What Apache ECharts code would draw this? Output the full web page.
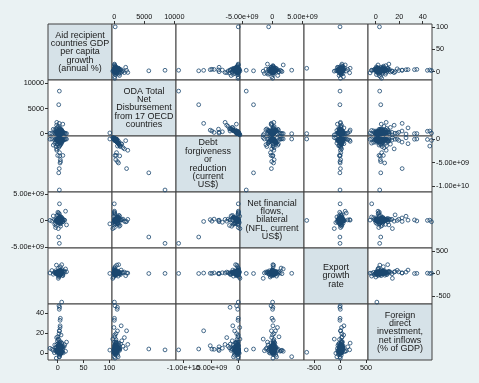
<!DOCTYPE html>
<html>
<head>
<meta charset="utf-8">
<script src="https://cdn.jsdelivr.net/npm/echarts@6/dist/echarts.min.js"></script>
<style>
  html, body { margin: 0; padding: 0; background: #eaf2f3; }
  #chart { width: 479px; height: 383px; }
</style>
</head>
<body>
<div id="chart"></div>
<script>
// variable names shown on the diagonal
var varLabels = [
  'Aid recipient\ncountries GDP\nper capita\ngrowth\n(annual %)',
  'ODA Total\nNet\nDisbursement\nfrom 17 OECD\ncountries',
  'Debt\nforgiveness\nor\nreduction\n(current\nUS$)',
  'Net financial\nflows,\nbilateral\n(NFL, current\nUS$)',
  'Export\ngrowth\nrate',
  'Foreign\ndirect\ninvestment,\nnet inflows\n(% of GDP)'
];

// observations (debt and nfl in billions of US$)
var gdp = [
  3.2, 5.1, -1.4, 6.8, 2.5, 4.4, 0.7, 7.9, -3.2, 5.6,
  1.9, 3.8, 9.4, -0.6, 4.9, 2.2, 6.1, -5.7, 3.5, 8.3,
  1.1, 4.2, -2.1, 5.9, 12.4, 0.3, 3.9, 7.2, -8.6, 2.8,
  4.6, 6.5, -0.9, 1.6, 10.8, 3.1, 5.3, -4.1, 2.9, 7.6,
  0.9, 4.8, -1.8, 6.3, 3.6, 15.2, 1.4, 5.7, -2.7, 2.4,
  8.9, 4.1, -11.3, 3.3, 6.9, 0.2, 5.2, 2.1, -6.4, 4.5,
  7.4, 1.7, 3.7, -0.3, 9.9, 2.6, 5.5, -3.8, 4.3, 13.6,
  1.2, 6.6, -14.8, 3.0, 4.7, 0.5, 17.1, 2.0, 5.0, -1.1,
  2.8, 4.1, 3.5, 1.9, 5.2, 3.0, 4.6, 2.3, 3.9, 5.8,
  1.5, 4.4, 3.3, 2.6, 6.0, 3.7, 0.8, 4.9, 2.9, 3.4,
  5.5, 1.2, 4.0, 3.1, 2.0, 6.4, 3.6, 4.3, -0.5, 2.4,
  4.7, 3.8, 1.7, 5.0, 2.7, 7.0, 3.2, -1.9, 4.5, 2.2,
  3.2, 2.0, 3.0, 101, 3.4, 7.7, -2.5, 7.8, 0, 10,
  5, 5.5, 4.5, 4.0, 3.6, 2.5, 3.8, 3.0, 5.2, 4.6
];
var oda = [
  120, 340, 45, 610, 230, 80, 410, 155, 960, 275,
  30, 520, 190, 1250, 65, 380, 140, 720, 260, 15,
  450, 95, 1680, 310, 175, 20, 560, 240, 880, 110,
  350, 60, 205, 1450, 135, 480, 290, 10, 650, 185,
  75, 395, 2250, 160, 530, 40, 270, 820, 125, -120,
  430, 215, 55, 1050, 330, 90, 590, 250, 165, -60,
  700, 25, 365, 145, 1900, 280, 50, 470, 200, 105,
  -250, 320, 85, 540, 1150, 225, 35, 400, 150, 760,
  90, 160, 210, 45, 300, 130, 70, 250, 185, 20,
  115, 340, 60, 150, 235, 5, 95, 280, 175, 40,
  220, 100, 145, 370, 55, 195, 80, 125, 265, 30,
  170, 240, 65, 110, 315, 140, 85, 205, 35, 155,
  8450, 5750, 2050, 150, 0, 20, 420, 730, 110, 300,
  250, 530, 700, 900, 380, 120, 530, 480, 30, 10
];
var debt = [
  -0.05, -0.32, 0, -0.81, -0.12, 0.02, -0.45, -0.08, -1.6, -0.21,
  0, -0.6, -0.15, -1.1, -0.03, -0.38, -0.1, -0.95, -0.26, 0,
  -0.52, -0.06, -2.1, -0.3, -0.18, 0.05, -0.72, -0.22, -1.3, -0.09,
  -0.41, -0.02, -0.17, -1.85, -0.11, -0.58, -0.28, 0, -0.88, -0.14,
  -0.04, -0.47, -2.4, -0.13, -0.66, 0.01, -0.24, -1.2, -0.07, 0.18,
  -0.5, -0.19, -0.01, -1.45, -0.34, -0.06, -0.76, -0.27, -0.16, 0.25,
  -0.9, 0, -0.43, -0.12, -0.35, -0.29, -0.03, -0.62, -0.2, -0.08,
  0.3, -0.37, -0.05, -0.69, -1.0, -0.23, -0.02, -0.54, -0.15, -1.05,
  -0.02, -0.1, -0.05, 0, -0.15, -0.03, -0.08, -0.2, 0, -0.06,
  -0.12, -0.01, -0.25, -0.04, 0, -0.09, -0.18, -0.02, -0.07, -0.3,
  0, -0.11, -0.04, -0.14, -0.01, -0.22, -0.06, 0, -0.16, -0.03,
  -0.08, -0.13, 0, -0.05, -0.19, -0.02, -0.1, -0.07, -0.01, -0.04,
  -10.85, -7.2, -6.3, 0, 0, 0, -0.25, -0.5, -3.5, -3.5,
  -4.4, -4.8, -5.1, -3.6, -2.9, -0.3, -1.5, -0.1, 0, -0.05
];
var nfl = [
  1.3, 0.35, -0.05, 0.61, 0.2, -0.15, 0.42, 0.08, -0.9, 0.27,
  0.03, -0.4, 0.18, 0.2, -0.02, 0.5, 0.1, -0.7, 0.25, 0.01,
  0.44, -0.1, -0.1, 0.3, 0.15, 1.6, 0.58, -0.22, 0.9, 0.07,
  0.33, 0.04, -0.18, 0.3, 0.14, 0.47, 0.22, -1.3, 0.7, 0.16,
  0.06, -0.55, 0.25, 0.13, 0.52, 1.8, 0.26, -1.05, 0.11, -0.35,
  0.4, 0.19, -0.08, 0.15, 0.3, 1.1, -0.62, 0.24, 0.17, 0.85,
  0.65, 1.45, 0.37, 0.12, -0.2, 0.28, 0.02, -0.48, 0.2, 0.09,
  -1.5, 0.31, 0.06, 0.54, 0.1, 0.21, -0.8, 0.39, 0.14, 1.0,
  0.05, 0.12, -0.08, 0.2, 0.02, 0.15, -0.03, 0.09, 0.25, -0.12,
  0.07, 0.18, 0.01, -0.05, 0.11, 0.22, 0.04, -0.15, 0.14, 0.06,
  -0.02, 0.1, 0.17, 0.03, -0.09, 0.08, 0.13, -0.01, 0.19, 0.05,
  0.16, -0.06, 0.1, 0.02, 0.23, -0.04, 0.08, 0.12, -0.1, 0.04,
  -4.3, -3.1, -0.15, -0.6, 3.2, 0.05, 0.2, 0.1, 0.1, -0.2,
  0.3, -0.1, 0.2, 0.05, -0.3, -0.2, 0.1, 0.05, -0.05, 0.15
];
var expGrowth = [
  12, 25, -8, 40, 5, 18, -20, 33, 9, -3,
  60, 15, -35, 22, 7, 48, -12, 28, 2, 85,
  19, -45, 30, 11, 55, -6, 24, 38, -18, 14,
  4, 70, -28, 16, 35, -2, 45, 10, -60, 27,
  21, -15, 8, 52, 13, 100, -10, 31, 6, -80,
  36, 1, 65, -24, 20, 42, 3, -40, 17, 29,
  -5, 120, 23, 10, -50, 34, 14, 58, -30, 26,
  -110, 44, 9, 18, 75, -14, 37, 0, 150, 20,
  8, 15, -4, 22, 3, 11, -9, 18, 6, 27,
  -2, 13, 9, 20, -12, 5, 16, 1, 24, 10,
  -6, 14, 7, 30, 2, 12, -15, 19, 4, 9,
  17, -3, 11, 25, 6, -8, 14, 21, 0, 7,
  0, -2, 8, 0, 2, -640, 185, 195, 5, -10,
  12, 0, 3, -5, 15, 4, -3, 6, 1, -2
];
var fdi = [
  2.1, 4.5, 0.8, 6.2, 3.3, 1.5, 9.8, 2.7, 5.4, 0.3,
  7.6, 3.9, 1.2, 12.5, 2.4, 5.1, -0.6, 8.3, 3.6, 1.9,
  4.8, 2.2, 15.7, 0.9, 6.7, 3.1, -1.8, 10.4, 2.9, 5.8,
  1.4, 18.3, 3.7, 7.1, 0.5, 4.2, 11.6, 2.6, -3.5, 6.4,
  3.5, 1.0, 8.9, 5.6, 22.4, 2.0, 13.8, 4.4, -4.8, 0.1,
  6.9, 2.8, 4.1, 9.2, 1.7, 16.5, 3.2, 7.8, 0.6, 25.8,
  5.2, 2.5, 10.9, 1.3, 4.7, 19.6, 3.0, 6.0, -1.2, 8.6,
  14.2, 2.3, 5.0, 0.4, 27.5, 3.8, 11.2, 1.6, 6.5, 4.0,
  2.5, 3.8, 1.2, 5.0, 0.7, 4.1, 2.9, 6.3, 1.8, 3.4,
  2.2, 7.5, 0.4, 4.6, 3.0, 1.6, 5.7, 2.7, 8.8, 3.6,
  1.1, 4.3, 2.0, 6.8, 0.9, 3.2, 5.3, 2.4, 4.0, 1.4,
  9.6, 2.8, 3.9, 0.2, 5.9, 2.1, 4.8, 1.9, 7.2, 3.3,
  3.4, 4.3, 22.5, 3.2, -3.4, 1.0, 3.5, 10.2, 2.8, 6.5,
  4.0, 4.2, 7.6, 3.9, 5.1, 47.5, 46, 44, 35, 33
];

// axis ticks and their labels
var tickValues = [
  [0, 50, 100],
  [0, 5000, 10000],
  [-10, -5, 0],
  [-5, 0, 5],
  [-500, 0, 500],
  [0, 20, 40]
];
var tickLabels = [
  ['0', '50', '100'],
  ['0', '5000', '10000'],
  ['-1.00e+10', '-5.00e+09', '0'],
  ['-5.00e+09', '0', '5.00e+09'],
  ['-500', '0', '500'],
  ['0', '20', '40']
];

// axis extents when used as x (columns) and y (rows)
var xRange = [[-18.8, 105.2], [-380, 10280], [-11.33, 0.31], [-5.33, 5.23], [-692, 538], [-6.55, 47.9]];
var yRange = [[-18.7, 107.4], [-456, 10655], [-11.28, 0.64], [-5.18, 5.44], [-682, 567], [-6.7, 49.3]];

var vars = [gdp, oda, debt, nfl, expGrowth, fdi];
var n = 6;
var cellW = 64, cellH = 56, x0 = 48, y0 = 24;
var font = '"Liberation Sans Narrow", "Liberation Sans", Arial, sans-serif';

var grids = [], xAxes = [], yAxes = [], series = [], graphics = [];

function labelFmt(k) {
  return function (v) {
    var i = tickValues[k].indexOf(v);
    return i >= 0 ? tickLabels[k][i] : '';
  };
}

function makeAxis(idx, k, range, show, pos, labelVals) {
  return {
    type: 'value', gridIndex: idx, min: range[0], max: range[1],
    show: show, position: pos,
    axisLine: { show: false, onZero: false }, splitLine: { show: false },
    axisTick: { show: show, length: 3, customValues: tickValues[k], lineStyle: { color: '#333' } },
    axisLabel: { show: show, customValues: labelVals || tickValues[k], formatter: labelFmt(k),
      showMinLabel: true, showMaxLabel: true, hideOverlap: false,
      fontSize: 7.3, margin: 4, color: '#111', fontFamily: font }
  };
}

var extraX = [];
for (var r = 0; r < n; r++) {
  for (var c = 0; c < n; c++) {
    var idx = r * n + c;
    grids.push({
      left: x0 + c * cellW, top: y0 + r * cellH, width: cellW, height: cellH,
      show: true, borderColor: '#404040', borderWidth: 1,
      backgroundColor: r === c ? '#d6e2e8' : '#ffffff'
    });

    var topLab = r === 0 && c % 2 === 1;
    var botLab = r === n - 1 && c % 2 === 0;
    if (botLab && c === 2) {
      // the two left labels of the debt axis collide; draw the middle one on its own axis
      xAxes.push(makeAxis(idx, c, xRange[c], true, 'bottom', [-10, 0]));
      var mid = makeAxis(idx, c, xRange[c], true, 'bottom', [-5]);
      mid.axisTick.show = false;
      extraX.push(mid);
    } else {
      xAxes.push(makeAxis(idx, c, xRange[c], topLab || botLab, topLab ? 'top' : 'bottom'));
    }

    var rightLab = c === n - 1 && r % 2 === 0;
    var leftLab = c === 0 && r % 2 === 1;
    yAxes.push(makeAxis(idx, r, yRange[r], rightLab || leftLab, rightLab ? 'right' : 'left'));

    if (r === c) {
      graphics.push({
        type: 'text',
        x: x0 + c * cellW + cellW / 2, y: y0 + r * cellH + cellH / 2,
        style: { text: varLabels[r], fontSize: 9, lineHeight: 8.4, align: 'center',
          verticalAlign: 'middle', fill: '#1a1a1a', fontFamily: font }
      });
    } else {
      var xs = vars[c], ys = vars[r];
      var pts = xs.map(function (v, i) { return [v, ys[i]]; });
      series.push({
        type: 'scatter', xAxisIndex: idx, yAxisIndex: idx, data: pts,
        symbol: 'circle', symbolSize: 3.8, clip: false, silent: true,
        itemStyle: { color: 'transparent', borderColor: '#1a476f', borderWidth: 1 }
      });
    }
  }
}
xAxes = xAxes.concat(extraX);

var chart = echarts.init(document.getElementById('chart'));
chart.setOption({
  backgroundColor: '#eaf2f3',
  animation: false,
  grid: grids,
  xAxis: xAxes,
  yAxis: yAxes,
  series: series,
  graphic: graphics
});
</script>
</body>
</html>
